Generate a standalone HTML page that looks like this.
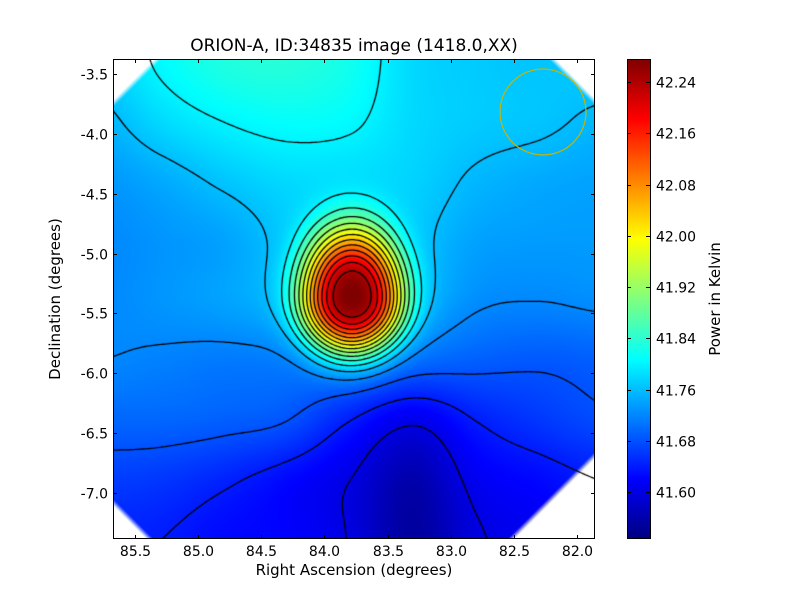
<!DOCTYPE html>
<html><head><meta charset="utf-8">
<style>
body{margin:0;background:#fff;}
#wrap{position:relative;width:800px;height:600px;background:#fff;font-family:"DejaVu Sans","Liberation Sans",sans-serif;color:#000;overflow:hidden}
.t{position:absolute;font-size:14px;white-space:nowrap}
canvas{position:absolute}
</style></head><body>
<div id="wrap">
<div class="t" style="left:0;width:708px;text-align:center;top:36px;font-size:17px">ORION-A, ID:34835 image (1418.0,XX)</div>
<canvas id="map" width="482" height="480" style="left:113px;top:59px"></canvas>
<canvas id="cbar" width="23" height="480" style="left:627px;top:59px"></canvas>
<svg id="ov" width="800" height="600" style="position:absolute;left:0;top:0"></svg>
<div class="t" style="left:113px;width:482px;text-align:center;top:561px;font-size:15px">Right Ascension (degrees)</div>
<div class="t" style="left:55px;top:299px;font-size:15px;transform:translate(-50%,-50%) rotate(-90deg)">Declination (degrees)</div>
<div class="t" style="left:715px;top:299px;font-size:15px;transform:translate(-50%,-50%) rotate(-90deg)">Power in Kelvin</div>
</div>
<script>
// grid RA columns, Dec rows, background values (K)
const raCols=[85.8,85.3,84.8,84.3,83.8,83.3,82.8,82.3,81.8];
const decRows=[-3.4,-3.9,-4.4,-4.9,-5.4,-5.9,-6.4,-6.9,-7.4];
const row0=[41.770,41.805,41.830,41.835,41.820,41.780,41.770,41.765,41.770];
const row1=[41.750,41.780,41.800,41.810,41.805,41.780,41.770,41.765,41.755];
const row2=[41.730,41.745,41.765,41.780,41.780,41.775,41.755,41.745,41.740];
const row3=[41.720,41.730,41.740,41.765,41.775,41.765,41.740,41.735,41.735];
const row4=[41.720,41.730,41.740,41.755,41.765,41.755,41.725,41.720,41.725];
const row5=[41.720,41.715,41.710,41.712,41.718,41.700,41.690,41.685,41.690];
const row6=[41.695,41.695,41.690,41.680,41.640,41.605,41.640,41.660,41.675];
const row7=[41.665,41.660,41.645,41.625,41.600,41.560,41.610,41.625,41.640];
const row8=[41.645,41.640,41.625,41.620,41.598,41.550,41.595,41.612,41.625];
const peakPos=[83.78,-5.38];
const peakAmp=[0.51];
const peakWidth=[0.40,0.395,0.58,0.45]; // left, right, up, down (deg)
const peakShape=[2.7];
const levels=[41.60,41.64,41.68,41.72,41.76,41.80,41.84,41.88,41.92,41.96,42.00,42.04,42.08,42.12,42.16,42.20,42.24];
const xTicks=[85.5,85.0,84.5,84.0,83.5,83.0,82.5,82.0];
const yTicks=[-3.5,-4.0,-4.5,-5.0,-5.5,-6.0,-6.5,-7.0];
const cTicks=[42.24,42.16,42.08,42.00,41.92,41.84,41.76,41.68,41.60];
const rows=[row0,row1,row2,row3,row4,row5,row6,row7,row8];

const PX=113,PY=59,PW=482,PH=480;
const raL=85.5+(135-113)/126.3, raR=82.0-(595-577)/126.3;
const decT=-3.5+(74-59)/119.7, decB=-7.0-(539-493)/119.7;
const vMin=41.527,vMax=42.276;
const xs=ra=>PX+(raL-ra)/(raL-raR)*PW;
const ys=d=>PY+(decT-d)/(decT-decB)*PH;
const cs=v=>59+(vMax-v)/(vMax-vMin)*480;
function cr(p0,p1,p2,p3,t){return 0.5*(2*p1+(-p0+p2)*t+(2*p0-5*p1+4*p2-p3)*t*t+(-p0+3*p1-3*p2+p3)*t*t*t);}
function g(i,j){i=Math.max(0,Math.min(8,i));j=Math.max(0,Math.min(8,j));return rows[j][i];}
function field(ra,dec){
  let fx=(raCols[0]-ra)/0.5, fy=(decRows[0]-dec)/0.5;
  let i=Math.floor(fx),j=Math.floor(fy),tx=fx-i,ty=fy-j;
  let r=[];for(let k=-1;k<3;k++)r.push(cr(g(i-1,j+k),g(i,j+k),g(i+1,j+k),g(i+2,j+k),tx));
  let v=cr(r[0],r[1],r[2],r[3],ty);
  let dx=ra-peakPos[0],dy=dec-peakPos[1];
  let ax=dx>0?peakWidth[0]:peakWidth[1], ay=dy>0?peakWidth[2]:peakWidth[3];
  let rr=Math.sqrt((dx/ax)**2+(dy/ay)**2);
  return v+peakAmp[0]*Math.exp(-Math.pow(rr,peakShape[0]));
}
function jet(t){t=Math.max(0,Math.min(1,t));const c=x=>Math.round(255*Math.max(0,Math.min(1,x)));
  return [c(1.5-Math.abs(4*t-3)),c(1.5-Math.abs(4*t-2)),c(1.5-Math.abs(4*t-1))];}
function mask(px,py){
  const d=[px+py-44,(PW-px)+py-43,px+(PH-py)-37,(PW-px)+(PH-py)-85];
  let m=Math.min(...d);return Math.max(0,Math.min(1,m/7+0.5));
}
const ctx=document.getElementById('map').getContext('2d');
const img=ctx.createImageData(PW,PH);
for(let y=0;y<PH;y++)for(let x=0;x<PW;x++){
  const ra=raL-(x+0.5)/PW*(raL-raR),dec=decT-(y+0.5)/PH*(decT-decB);
  const c=jet((field(ra,dec)-vMin)/(vMax-vMin));const a=mask(x,y);
  const k=4*(y*PW+x);
  img.data[k]=c[0]*a+255*(1-a);img.data[k+1]=c[1]*a+255*(1-a);img.data[k+2]=c[2]*a+255*(1-a);img.data[k+3]=255;
}
ctx.putImageData(img,0,0);
// contours via marching squares
const S=2,nx=Math.ceil(PW/S)+1,ny=Math.ceil(PH/S)+1,F=[];
for(let j=0;j<ny;j++){F.push([]);for(let i=0;i<nx;i++){F[j].push(field(raL-i*S/PW*(raL-raR),decT-j*S/PH*(decT-decB)));}}
ctx.strokeStyle='#000';ctx.lineWidth=1.3;
levels.forEach(L=>{
  ctx.beginPath();
  for(let j=0;j<ny-1;j++)for(let i=0;i<nx-1;i++){
    const v=[F[j][i],F[j][i+1],F[j+1][i+1],F[j+1][i]];
    const p=[[i,j],[i+1,j],[i+1,j+1],[i,j+1]];
    const pts=[];
    for(let e=0;e<4;e++){const a=v[e],b=v[(e+1)%4];
      if((a<L)!==(b<L)){const t=(L-a)/(b-a),pa=p[e],pb=p[(e+1)%4];pts.push([(pa[0]+t*(pb[0]-pa[0]))*S,(pa[1]+t*(pb[1]-pa[1]))*S]);}}
    for(let q=0;q+1<pts.length;q+=2){ctx.moveTo(pts[q][0],pts[q][1]);ctx.lineTo(pts[q+1][0],pts[q+1][1]);}
  }
  ctx.stroke();
});
// colorbar
const cc=document.getElementById('cbar').getContext('2d');
for(let y=0;y<480;y++){const c=jet(1-(y+0.5)/480);cc.fillStyle=`rgb(${c[0]},${c[1]},${c[2]})`;cc.fillRect(0,y,23,1);}
// overlay
const ov=document.getElementById('ov');const NS='http://www.w3.org/2000/svg';
function el(t,a){const e=document.createElementNS(NS,t);for(const k in a)e.setAttribute(k,a[k]);ov.appendChild(e);return e;}
const circ=el('circle',{cx:543,cy:112,r:43,fill:'none',stroke:'#c8b400','stroke-width':1.2});


const fr=el('rect',{x:113.5,y:59.5,width:481,height:479,fill:'none',stroke:'#000','stroke-width':1});


el('rect',{x:627.5,y:59.5,width:23,height:479,fill:'none',stroke:'#000','stroke-width':1});
xTicks.forEach(v=>{const x=Math.round(xs(v))+0.5;
  el('line',{x1:x,x2:x,y1:539,y2:535,stroke:'#000'});el('line',{x1:x,x2:x,y1:59,y2:63,stroke:'#000'});
  const t=el('text',{x:x,y:556,'text-anchor':'middle','font-size':14,'font-family':'DejaVu Sans, Liberation Sans, sans-serif'});t.textContent=v.toFixed(1);
  
  });
yTicks.forEach(v=>{const y=Math.round(ys(v))+0.5;
  el('line',{x1:113,x2:117,y1:y,y2:y,stroke:'#000'});el('line',{x1:595,x2:591,y1:y,y2:y,stroke:'#000'});
  const t=el('text',{x:108,y:y+5,'text-anchor':'end','font-size':14,'font-family':'DejaVu Sans, Liberation Sans, sans-serif'});t.textContent=v.toFixed(1);
  
  });
cTicks.forEach(v=>{const y=Math.round(cs(v))+0.5;
  el('line',{x1:650,x2:646,y1:y,y2:y,stroke:'#000'});el('line',{x1:627,x2:631,y1:y,y2:y,stroke:'#000'});
  const t=el('text',{x:656,y:y+5,'font-size':14,'font-family':'DejaVu Sans, Liberation Sans, sans-serif'});t.textContent=v.toFixed(2);
  
  });
</script>
</body></html>
